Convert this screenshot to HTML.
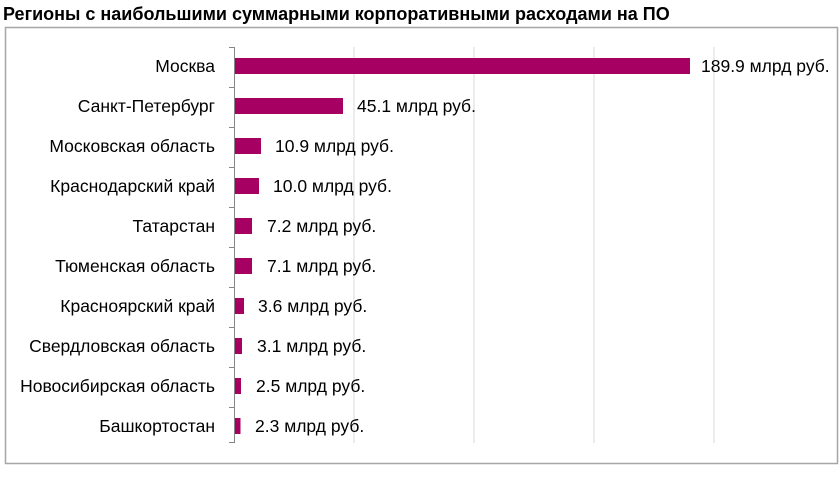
<!DOCTYPE html>
<html><head><meta charset="utf-8"><style>
body{margin:0;background:#fff;width:840px;height:476px;overflow:hidden}
</style></head><body>
<svg width="840" height="476" xmlns="http://www.w3.org/2000/svg" font-family="Liberation Sans, sans-serif">
<text x="3" y="20" font-size="18" font-weight="bold" fill="#000">Регионы с наибольшими суммарными корпоративными расходами на ПО</text>
<rect x="5.5" y="27.5" width="832" height="436" fill="#fff" stroke="#a6a6a6" stroke-width="1.5"/>
<g stroke="#d9d9d9" stroke-width="1">
<line x1="354" y1="47" x2="354" y2="443"/><line x1="474" y1="47" x2="474" y2="443"/>
<line x1="594" y1="47" x2="594" y2="443"/><line x1="714" y1="47" x2="714" y2="443"/>
</g>
<g stroke="#868686" stroke-width="1">
<line x1="234.5" y1="47" x2="234.5" y2="443"/>
<line x1="229" y1="47.5" x2="234" y2="47.5"/><line x1="229" y1="87.5" x2="234" y2="87.5"/>
<line x1="229" y1="127.5" x2="234" y2="127.5"/><line x1="229" y1="167.5" x2="234" y2="167.5"/>
<line x1="229" y1="207.5" x2="234" y2="207.5"/><line x1="229" y1="247.5" x2="234" y2="247.5"/>
<line x1="229" y1="287.5" x2="234" y2="287.5"/><line x1="229" y1="327.5" x2="234" y2="327.5"/>
<line x1="229" y1="367.5" x2="234" y2="367.5"/><line x1="229" y1="407.5" x2="234" y2="407.5"/>
<line x1="229" y1="442.5" x2="234" y2="442.5"/>
</g>
<g fill="#a50062">
<rect x="235" y="58" width="455" height="16"/>
<rect x="235" y="98" width="108" height="16"/>
<rect x="235" y="138" width="26" height="16"/>
<rect x="235" y="178" width="24" height="16"/>
<rect x="235" y="218" width="17" height="16"/>
<rect x="235" y="258" width="17" height="16"/>
<rect x="235" y="298" width="9" height="16"/>
<rect x="235" y="338" width="7" height="16"/>
<rect x="235" y="378" width="6" height="16"/>
<rect x="235" y="418" width="5.5" height="16"/>
</g>
<g font-size="17.5" fill="#000" text-anchor="end">
<text x="215" y="72">Москва</text>
<text x="215" y="112">Санкт-Петербург</text>
<text x="215" y="152">Московская область</text>
<text x="215" y="192">Краснодарский край</text>
<text x="215" y="232">Татарстан</text>
<text x="215" y="272">Тюменская область</text>
<text x="215" y="312">Красноярский край</text>
<text x="215" y="352">Свердловская область</text>
<text x="215" y="392">Новосибирская область</text>
<text x="215" y="432">Башкортостан</text>
</g>
<g font-size="17.5" fill="#000">
<text x="701" y="72">189.9 млрд руб.</text>
<text x="357" y="112">45.1 млрд руб.</text>
<text x="275" y="152">10.9 млрд руб.</text>
<text x="273" y="192">10.0 млрд руб.</text>
<text x="267" y="232">7.2 млрд руб.</text>
<text x="267" y="272">7.1 млрд руб.</text>
<text x="258" y="312">3.6 млрд руб.</text>
<text x="257" y="352">3.1 млрд руб.</text>
<text x="256" y="392">2.5 млрд руб.</text>
<text x="255" y="432">2.3 млрд руб.</text>
</g>
</svg>
</body></html>
